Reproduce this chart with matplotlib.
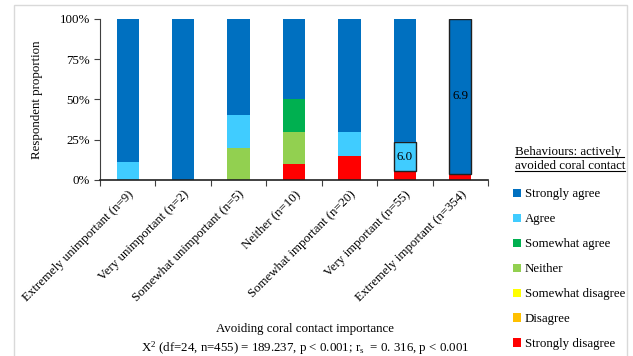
import numpy as np
import matplotlib
matplotlib.use("Agg")
from matplotlib import pyplot as plt
from matplotlib.patches import Patch, Rectangle
from matplotlib.lines import Line2D

plt.rcParams['font.family'] = ['Liberation Serif', 'DejaVu Serif']
plt.rcParams['mathtext.fontset'] = 'custom'
plt.rcParams['mathtext.rm'] = 'Liberation Serif'
plt.rcParams['mathtext.it'] = 'Liberation Serif:italic'
FS = 9.3

categories = ['Extremely unimportant (n=9)', 'Very unimportant (n=2)',
              'Somewhat unimportant (n=5)', 'Neither (n=10)',
              'Somewhat important (n=20)', 'Very important (n=55)',
              'Extremely important (n=354)']
group_n = np.array([9, 2, 5, 10, 20, 55, 354])

# respondent counts per response level, bottom of the stack first
strongly_disagree = np.array([0, 0, 0, 1, 3, 3, 11])
disagree = np.array([0, 0, 0, 0, 0, 0, 0])
somewhat_disagree = np.array([0, 0, 0, 0, 0, 0, 0])
neither = np.array([0, 0, 1, 2, 0, 0, 0])
somewhat_agree = np.array([0, 0, 0, 2, 0, 0, 3])
agree = np.array([1, 0, 1, 0, 3, 10, 0])
strongly_agree = np.array([8, 2, 3, 5, 14, 42, 340])

levels = ['Strongly disagree', 'Disagree', 'Somewhat disagree', 'Neither',
          'Somewhat agree', 'Agree', 'Strongly agree']
counts = [strongly_disagree, disagree, somewhat_disagree, neither,
          somewhat_agree, agree, strongly_agree]
colors = ['#FF0000', '#FFC000', '#FFFF00', '#92D050', '#00B050', '#40CCFF', '#0070C0']

# mean scores written inside the highlighted segments
mean_labels = {5: ('Agree', '6.0'), 6: ('Strongly agree', '6.9')}

fig = plt.figure(figsize=(6.33, 3.56), dpi=100)
ax = fig.add_axes([100/633, 1-180/356, 388/633, (180-18.7)/356])

x = np.arange(len(categories))
bottom = np.zeros(len(categories))
for name, c, col in zip(levels, counts, colors):
    pct = c / group_n * 100
    bars = ax.bar(x, pct, 0.4, bottom=bottom, color=col, edgecolor='none', label=name)
    for i, (lvl, txt) in mean_labels.items():
        if lvl == name:
            b = bars[i]
            b.set_edgecolor('#202020')
            b.set_linewidth(1.0)
            ax.text(x[i], bottom[i] + pct[i] / 2, txt, ha='center', va='center', fontsize=FS)
    bottom += pct

ax.set_xlim(-0.5, len(categories) - 0.5)
ax.set_ylim(0, 100)
ax.set_yticks([0, 25, 50, 75, 100])
ax.set_yticklabels(['0%', '25%', '50%', '75%', '100%'], fontsize=FS)
ax.set_xticks(np.arange(len(categories) + 1) - 0.5)
ax.set_xticklabels([])
ax.set_xticks(x, minor=True)
ax.set_xticklabels(categories, minor=True, rotation=45, ha='right',
                   rotation_mode='anchor', fontsize=FS)
ax.tick_params(axis='x', which='minor', length=0, pad=6)
ax.tick_params(axis='x', which='major', length=4, direction='out', color='#404040')
ax.tick_params(axis='y', length=4, direction='out', color='#404040', pad=3)
ax.spines['top'].set_visible(False)
ax.spines['right'].set_visible(False)
ax.spines['left'].set_color('#404040')
ax.spines['bottom'].set_color('#202020')
ax.spines['bottom'].set_linewidth(1.2)
ax.set_ylabel('Respondent proportion', fontsize=FS, labelpad=12)

fig.text(305/633, 1-329/356, 'Avoiding coral contact importance', ha='center', va='center', fontsize=FS)
fig.text(305/633, 1-348/356,
         r'X$^2$ (df=24, n=455) = 189.237, p < 0.001; $\mathregular{r_s}$  = 0. 316, p < 0.001',
         ha='center', va='center', fontsize=FS)

# legend, listed from the top response down
handles = [Patch(facecolor=col, edgecolor='none') for col in colors][::-1]
fig.legend(handles, levels[::-1], loc='upper left', bbox_to_anchor=(513/633, 1-188.5/356),
           frameon=False, fontsize=FS, handlelength=0.6, handleheight=0.6,
           handletextpad=0.3, labelspacing=1.0, borderaxespad=0, borderpad=0)

t1 = fig.text(515/633, 1-152/356, 'Behaviours: actively ', ha='left', va='center', fontsize=FS)
t2 = fig.text(515/633, 1-166/356, 'avoided coral contact', ha='left', va='center', fontsize=FS)

# underline the legend heading
fig.canvas.draw()
r = fig.canvas.get_renderer()
for t in (t1, t2):
    bb = t.get_window_extent(r).transformed(fig.transFigure.inverted())
    fig.add_artist(Line2D([bb.x0, bb.x1], [bb.y0 + 0.004, bb.y0 + 0.004],
                          transform=fig.transFigure, color='black', lw=0.8))

# light frame round the chart area
fig.add_artist(Rectangle((14/633, -0.05), (627-14)/633, 1.05 - 5/356,
                         transform=fig.transFigure, fill=False, edgecolor='#D9D9D9', lw=1.0))

fig.savefig('out.png', dpi=100)
